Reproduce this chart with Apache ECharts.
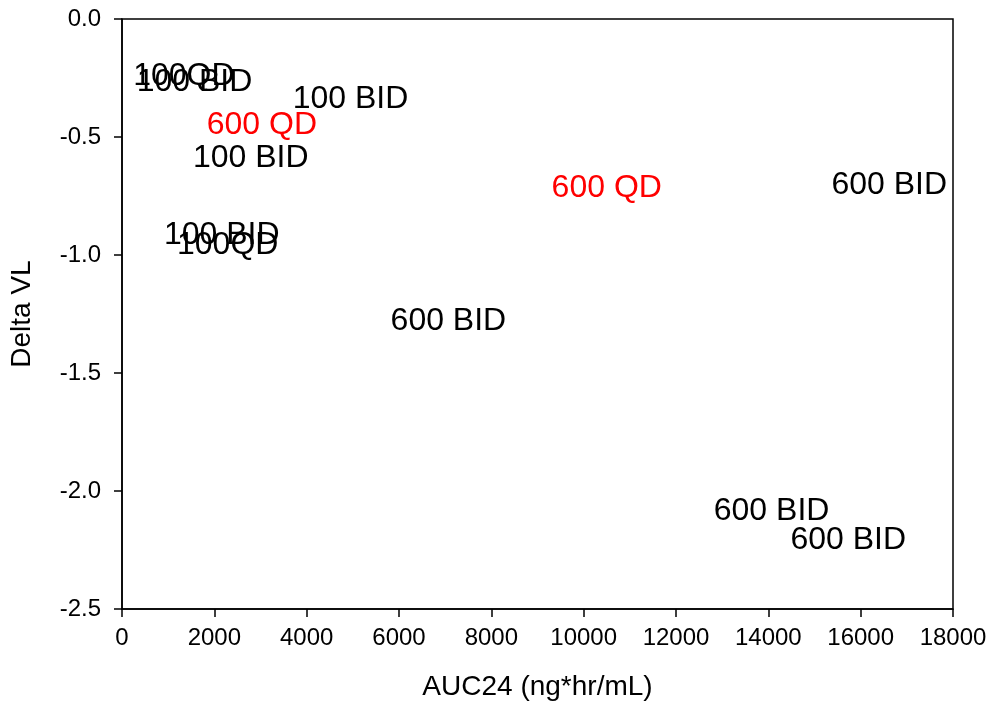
<!DOCTYPE html>
<html>
<head>
<meta charset="utf-8">
<script src="https://cdn.jsdelivr.net/npm/echarts@6/dist/echarts.min.js"></script>
<style>
  html, body { margin: 0; padding: 0; background: #fff; }
  #main { width: 990px; height: 707px; }
</style>
</head>
<body>
<div id="main"></div>
<script>
// values
var auc24 = [1340, 1570, 4950, 3030, 2790, 2160, 2290, 7070, 10500, 16620, 14070, 15730];
var deltaVL = [-0.242, -0.267, -0.339, -0.449, -0.589, -0.915, -0.958, -1.280, -0.716, -0.703, -2.085, -2.208];
var regimen = ['100QD', '100 BID', '100 BID', '600 QD', '100 BID', '100 BID', '100QD', '600 BID', '600 QD', '600 BID', '600 BID', '600 BID'];

var myChart = echarts.init(document.getElementById('main'));

var points = [];
for (var i = 0; i < auc24.length; i++) {
    points.push({
        value: [auc24[i], deltaVL[i]],
        name: regimen[i],
        label: { color: regimen[i] == '600 QD' ? '#ff0000' : '#000000' }
    });
}

var font = 'Liberation Sans, Arial, sans-serif';

var option = {
    animation: false,
    backgroundColor: '#ffffff',
    grid: {
        left: 120, right: 37, top: 19, bottom: 98,
        show: true, borderColor: '#000', borderWidth: 1.5
    },
    xAxis: {
        type: 'value',
        min: 0, max: 18000, interval: 2000,
        name: 'AUC24 (ng*hr/mL)',
        nameLocation: 'middle',
        nameGap: 64,
        nameTextStyle: { fontFamily: font, fontSize: 28, color: '#000' },
        axisLine: { onZero: false, lineStyle: { color: '#000', width: 1.5 } },
        axisTick: { length: 8, lineStyle: { color: '#000', width: 1.5 } },
        axisLabel: {
            margin: 17, fontFamily: font, fontSize: 24, color: '#000',
            formatter: function (v) { return String(v); }
        },
        splitLine: { show: false }
    },
    yAxis: {
        type: 'value',
        min: -2.5, max: 0, interval: 0.5,
        name: 'Delta VL',
        nameLocation: 'middle',
        nameGap: 86,
        nameTextStyle: { fontFamily: font, fontSize: 28, color: '#000' },
        axisLine: { onZero: false, lineStyle: { color: '#000', width: 1.5 } },
        axisTick: { length: 8, lineStyle: { color: '#000', width: 1.5 } },
        axisLabel: {
            margin: 21, fontFamily: font, fontSize: 24, color: '#000',
            formatter: function (v) { return v.toFixed(1); }
        },
        splitLine: { show: false }
    },
    series: [
        {
            type: 'scatter',
            symbolSize: 0.1,
            itemStyle: { color: 'rgba(0,0,0,0)', opacity: 1 },
            label: {
                show: true,
                position: 'inside',
                formatter: '{b}',
                fontFamily: font,
                fontSize: 32,
                opacity: 1
            },
            data: points
        }
    ]
};

myChart.setOption(option);
</script>
</body>
</html>
